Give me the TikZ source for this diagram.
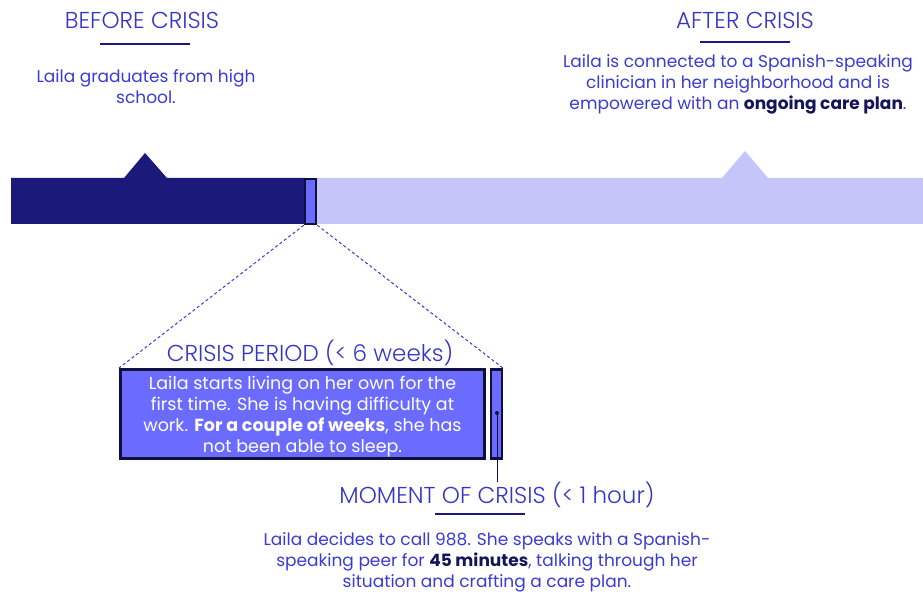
\documentclass[tikz,border=0pt]{standalone}
\usepackage{fontspec}
\setmainfont{Poppins}
\newfontfamily\headfont{Poppins Light}
\usepackage{tikz}

\definecolor{navy}{HTML}{1B1A7A}
\definecolor{lightbar}{HTML}{C5C5FA}
\definecolor{boxfill}{HTML}{6B6BFF}
\definecolor{boxline}{HTML}{101040}
\definecolor{headblue}{HTML}{3434C8}
\definecolor{textblue}{HTML}{3A3AD6}
\definecolor{darktext}{HTML}{14145A}

\begin{document}
\begin{tikzpicture}[x=1pt,y=-1pt,
    head/.style={text=headblue, font=\headfont\fontsize{23}{26}\selectfont, inner sep=0pt},
    body/.style={text=textblue, font=\fontsize{17}{21}\selectfont, align=center, inner sep=0pt},
    hrule/.style={navy, line width=2pt},
    zoomline/.style={textblue, line width=1pt, dash pattern=on 3pt off 2.5pt},
    slot/.style={draw=boxline, line width=2.5pt, fill=boxfill, inner sep=0pt}]
    \useasboundingbox (0,0) rectangle (923,593);

    % timeline
    \fill[navy] (11,178) -- (124,178) -- (145,153) -- (167,178) -- (305,178)
        -- (305,224) -- (11,224) -- cycle;
    \fill[lightbar] (316,178) -- (722,178) -- (745,151) -- (768,178) -- (923,178)
        -- (923,224) -- (316,224) -- cycle;
    \node[slot, minimum width=11pt, minimum height=45pt] (zoom) at (310.5,201.5) {};

    % before / after
    \node[head] (before) at (142,20) {BEFORE CRISIS};
    \draw[hrule] (100,44) -- (190,44);
    \node[body] (beforetxt) at (146,86.5) {Laila graduates from high\\school.};

    \node[head] (after) at (745,20) {AFTER CRISIS};
    \draw[hrule] (700,42) -- (790,42);
    \node[body] (aftertxt) at (738,84) {Laila is connected to a Spanish-speaking\\
        clinician in her neighborhood and is\\
        empowered with an \textcolor{darktext}{\textbf{ongoing care plan}}.};

    % crisis period
    \node[head] (periodhead) at (310,353) {CRISIS PERIOD (< 6 weeks)};
    \node[slot, line width=3pt, minimum width=364pt, minimum height=89pt] (period) at (302.5,414) {};
    \node[body, text=white, font=\fontsize{17.5}{21}\selectfont] (periodtxt) at (302.5,417)
        {Laila starts living on her own for the\\
        first time. She is having difficulty at\\
        work. \textbf{For a couple of weeks}, she has\\
        not been able to sleep.};
    \node[slot, minimum width=11pt, minimum height=89pt] (moment) at (496.5,414) {};

    \draw[zoomline] (zoom.south west) -- (period.north west);
    \draw[zoomline] (zoom.south east) -- (moment.north east);

    % moment of crisis
    \fill[boxline] (497,413) circle (2pt) coordinate (dot);
    \node[head] (momenthead) at (497,495) {MOMENT OF CRISIS (< 1 hour)};
    \draw[boxline, line width=0.8pt] (dot) -- (momenthead.north);
    \draw[hrule] (435,514) -- (525,514);
    \node[body] (momenttxt) at (487,562) {Laila decides to call 988. She speaks with a Spanish-\\
        speaking peer for \textcolor{darktext}{\textbf{45 minutes}}, talking through her\\
        situation and crafting a care plan.};
\end{tikzpicture}
\end{document}
